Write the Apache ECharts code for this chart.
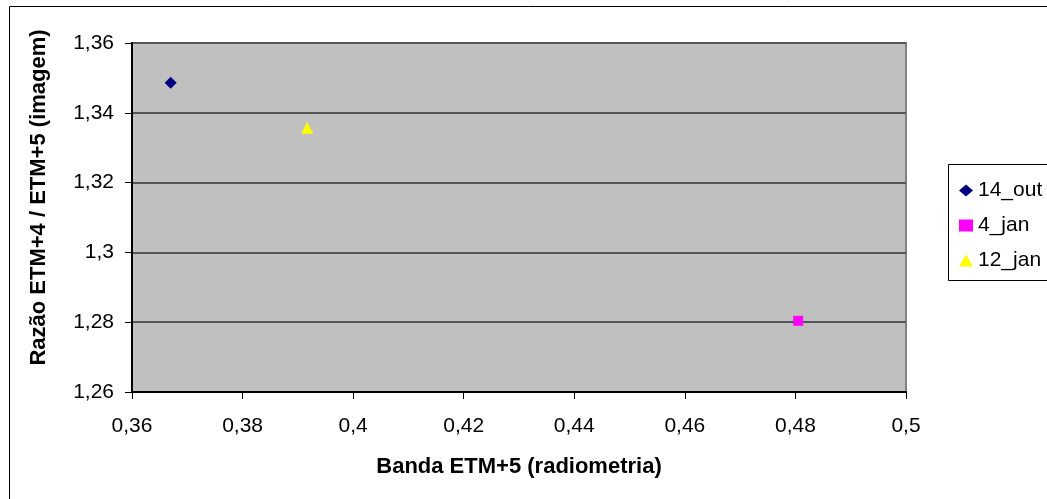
<!DOCTYPE html>
<html>
<head>
<meta charset="utf-8">
<script src="https://cdn.jsdelivr.net/npm/echarts@6/dist/echarts.min.js"></script>
<style>
  html, body { margin: 0; padding: 0; background: #ffffff; }
  #chart { width: 1047px; height: 499px; }
</style>
</head>
<body>
<div id="chart"></div>
<script>
// dados
const seriesNames = ['14_out', '4_jan', '12_jan']
const xValues = [0.367, 0.4805, 0.3917]
const yValues = [1.3486, 1.2804, 1.3357]
const colors = ['#000080', '#ff00ff', '#ffff00']
const symbols = ['diamond', 'rect', 'triangle']
const symbolSizes = [12, 10, 12]

const fmt = function (v) {
  return String(Math.round(v * 100) / 100).replace('.', ',')
}

const myChart = echarts.init(document.getElementById('chart'))

const series = seriesNames.map(function (name, i) {
  return {
    name: name,
    type: 'scatter',
    symbol: symbols[i],
    symbolSize: symbolSizes[i],
    itemStyle: { color: colors[i], opacity: 1 },
    data: [[xValues[i], yValues[i]]]
  }
})

const option = {
  animation: false,
  backgroundColor: '#ffffff',
  textStyle: { fontFamily: 'Liberation Sans, Arial, sans-serif' },
  graphic: [
    {
      type: 'rect',
      shape: { x: 9.5, y: 6.5, width: 1100, height: 600 },
      style: { fill: 'none', stroke: '#000000', lineWidth: 1 },
      silent: true,
      z: 0
    },
    {
      type: 'rect',
      shape: { x: 948.5, y: 164.5, width: 120, height: 116 },
      style: { fill: '#ffffff', stroke: '#000000', lineWidth: 1 },
      silent: true,
      z: 0
    }
  ],
  grid: {
    left: 132,
    top: 43,
    right: 1047 - 906,
    bottom: 499 - 392,
    show: true,
    backgroundColor: '#c0c0c0',
    borderColor: '#808080',
    borderWidth: 2
  },
  legend: {
    orient: 'vertical',
    left: 954,
    top: 175,
    itemGap: 14,
    itemWidth: 14,
    itemHeight: 12,
    textStyle: { fontSize: 21, color: '#000000', fontFamily: 'Liberation Sans, Arial, sans-serif' },
    data: seriesNames.map(function (n, i) {
      return { name: n, icon: symbols[i] }
    })
  },
  xAxis: {
    type: 'value',
    min: 0.36,
    max: 0.5,
    interval: 0.02,
    name: 'Banda ETM+5 (radiometria)',
    nameLocation: 'middle',
    nameGap: 64,
    nameTextStyle: { fontSize: 22, fontWeight: 'bold', color: '#000000' },
    axisLine: { show: true, onZero: false, lineStyle: { color: '#000000', width: 2 } },
    axisTick: { show: true, inside: false, length: 7, lineStyle: { color: '#000000' } },
    axisLabel: { fontSize: 21, color: '#000000', margin: 24, formatter: fmt },
    splitLine: { show: false }
  },
  yAxis: {
    type: 'value',
    min: 1.26,
    max: 1.36,
    interval: 0.02,
    name: 'Razão ETM+4 / ETM+5 (imagem)',
    nameLocation: 'middle',
    nameGap: 82,
    nameTextStyle: { fontSize: 22, fontWeight: 'bold', color: '#000000', padding: [0, 0, 0, 40] },
    axisLine: { show: true, onZero: false, lineStyle: { color: '#000000', width: 2 } },
    axisTick: { show: true, inside: false, length: 7, lineStyle: { color: '#000000' } },
    axisLabel: { fontSize: 21, color: '#000000', margin: 18, formatter: fmt },
    splitLine: { show: true, lineStyle: { color: '#555555', width: 2 } }
  },
  series: series
}

myChart.setOption(option)
</script>
</body>
</html>
